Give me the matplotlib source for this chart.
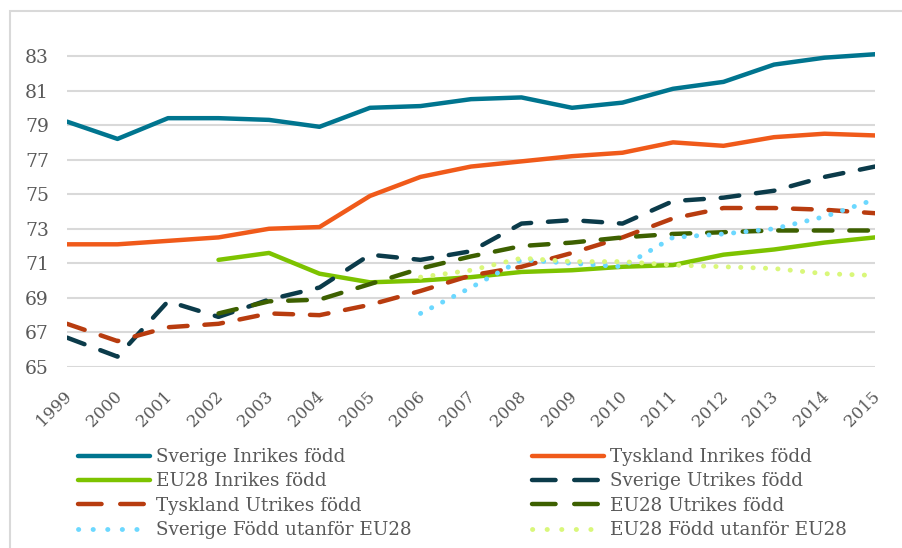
import numpy as np
import matplotlib.pyplot as plt
from matplotlib.patches import Rectangle
from matplotlib.lines import Line2D

years = list(range(1999, 2016))

# life expectancy values (nan = no data)
sverige_inrikes = [79.2, 78.2, 79.4, 79.4, 79.3, 78.9, 80.0, 80.1, 80.5, 80.6, 80.0, 80.3, 81.1, 81.5, 82.5, 82.9, 83.1]
tyskland_inrikes = [72.1, 72.1, 72.3, 72.5, 73.0, 73.1, 74.9, 76.0, 76.6, 76.9, 77.2, 77.4, 78.0, 77.8, 78.3, 78.5, 78.4]
eu28_inrikes = [np.nan, np.nan, np.nan, 71.2, 71.6, 70.4, 69.9, 70.0, 70.2, 70.5, 70.6, 70.8, 70.9, 71.5, 71.8, 72.2, 72.5]
sverige_utrikes = [66.7, 65.6, 68.8, 67.9, 68.9, 69.6, 71.5, 71.2, 71.7, 73.3, 73.5, 73.3, 74.6, 74.8, 75.2, 76.0, 76.6]
tyskland_utrikes = [67.5, 66.5, 67.3, 67.5, 68.1, 68.0, 68.6, 69.4, 70.3, 70.8, 71.6, 72.5, 73.6, 74.2, 74.2, 74.1, 73.9]
eu28_utrikes = [np.nan, np.nan, np.nan, 68.1, 68.8, 68.9, 69.8, 70.7, 71.4, 72.0, 72.2, 72.5, 72.7, 72.8, 72.9, 72.9, 72.9]
sverige_utanfor = [np.nan] * 7 + [68.1, 69.6, 71.2, 71.0, 70.8, 72.5, 72.7, 73.0, 73.7, 74.7]
eu28_utanfor = [np.nan] * 7 + [70.2, 70.6, 71.3, 71.1, 71.1, 70.9, 70.8, 70.7, 70.4, 70.3]

series = [
    ("Sverige Inrikes född", sverige_inrikes, "#00758F", "solid"),
    ("Tyskland Inrikes född", tyskland_inrikes, "#F05A1A", "solid"),
    ("EU28 Inrikes född", eu28_inrikes, "#7DC300", "solid"),
    ("Sverige Utrikes född", sverige_utrikes, "#0B3B4A", "dash"),
    ("Tyskland Utrikes född", tyskland_utrikes, "#B83C0F", "dash"),
    ("EU28 Utrikes född", eu28_utrikes, "#3D6000", "dash"),
    ("Sverige Född utanför EU28", sverige_utanfor, "#6CD8FF", "dot"),
    ("EU28 Född utanför EU28", eu28_utanfor, "#D9F77A", "dot"),
]

plt.rcParams['font.family'] = ['DejaVu Serif']
txt_color = "#595959"

fig = plt.figure(figsize=(9.02, 5.48), dpi=100)
fig.patches.append(Rectangle((10 / 902, -0.1), 1.0, 1 - 11 / 548 + 0.1, transform=fig.transFigure,
                             fill=False, edgecolor="#D9D9D9", linewidth=1.5))
ax = fig.add_axes([67 / 902, 1 - 367 / 548, 808 / 902, (367 - 21.4) / 548])

handles = {}
for name, vals, color, style in series:
    kw = dict(color=color, linewidth=3.2, solid_capstyle="round")
    leg = dict(kw)
    if style == "dash":
        kw.update(dashes=(4.2, 3.8), dash_capstyle="round")
        leg.update(dashes=(5.3, 4.2), dash_capstyle="round")
    elif style == "dot":
        kw.update(dashes=(0.05, 2.5), dash_capstyle="round", linewidth=3.5)
        leg.update(dashes=(0.05, 2.95), dash_capstyle="round", linewidth=3.5)
    ax.plot(years, vals, label=name, **kw)
    handles[name] = Line2D([], [], **leg)

ax.set_xlim(1999, 2015)
ax.set_ylim(65, 85)
ax.set_yticks(range(65, 84, 2))
ax.set_xticks(years)
ax.set_xticklabels([f"{y} " for y in years], rotation=45, ha="right", va="top",
                   rotation_mode="anchor", fontsize=12, color=txt_color)
ax.tick_params(axis="x", length=0, pad=13)
ax.tick_params(axis="y", length=0, pad=13, labelsize=13.5, labelcolor=txt_color)
ax.grid(axis="y", color="#D9D9D9", linewidth=1.5)
ax.set_axisbelow(True)
for s in ax.spines.values():
    s.set_visible(False)

left_names = ["Sverige Inrikes född", "EU28 Inrikes född", "Tyskland Utrikes född", "Sverige Född utanför EU28"]
right_names = ["Tyskland Inrikes född", "Sverige Utrikes född", "EU28 Utrikes född", "EU28 Född utanför EU28"]

for names, x0 in [(left_names, 78 / 902), (right_names, 532 / 902)]:
    fig.legend([handles[n] for n in names], names, loc="upper left",
               bbox_to_anchor=(x0, 1 - 448 / 548), frameon=False, fontsize=13.2,
               handlelength=3.9, handletextpad=0.38, labelspacing=0.35,
               labelcolor=txt_color, borderaxespad=0, borderpad=0)

fig.savefig("out.png", dpi=100)
